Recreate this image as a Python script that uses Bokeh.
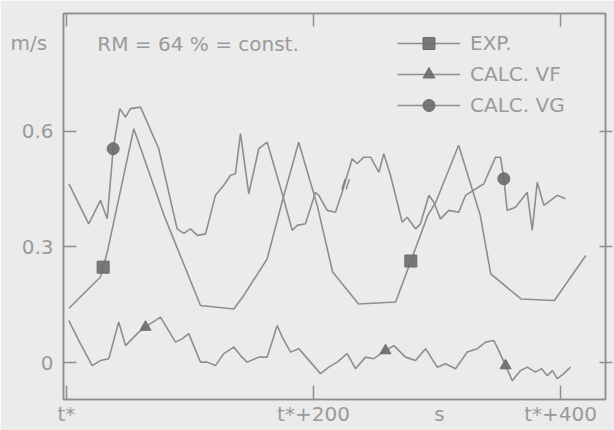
import numpy as np
from bokeh.plotting import figure
from bokeh.models import (LinearAxis, FixedTicker, Label, Legend, LegendItem,
                          Range1d)
from bokeh.embed import file_html
from bokeh.resources import INLINE

# ---------------- data (time after t*, s ; velocity m/s) ----------------
t_exp = [2, 27.5, 33, 54.5, 79, 108.5, 135.5, 143.5, 162.5, 174.5, 188, 203,
         215.5, 236.5, 266.5, 292.5, 299, 317.5, 335, 343.5, 368, 395, 420.5]
v_exp = [0.141, 0.222, 0.286, 0.607, 0.382, 0.148, 0.139, 0.174, 0.269, 0.416,
         0.572, 0.408, 0.235, 0.152, 0.157, 0.382, 0.416, 0.564, 0.382, 0.230,
         0.165, 0.161, 0.278]

t_vf = [1.9, 11.3, 20.8, 27.5, 34.3, 42.3, 47.8, 58.5, 64.0, 68.0, 76.1, 88.3,
        93.9, 99.0, 108.5, 113.9, 120.6, 127.4, 135.5, 140.9, 146.3, 155.7,
        162.5, 170.6, 174.7, 181.4, 188.1, 197.6, 205.7, 212.4, 219.2, 227.3,
        234.0, 242.1, 248.8, 258.3, 265.0, 274.5, 282.6, 290.7, 300.2, 306.9,
        315.0, 324.4, 332.6, 339.3, 346.0, 350.0, 355.5, 360.9, 367.6, 373.0,
        379.8, 384.6, 389.2, 393.5, 397.3, 402.7, 408.1]
v_vf = [0.109, 0.049, -0.008, 0.005, 0.010, 0.105, 0.044, 0.079, 0.092, 0.101,
        0.118, 0.053, 0.062, 0.075, 0.001, 0.001, -0.008, 0.023, 0.040, 0.018,
        0.001, 0.014, 0.014, 0.096, 0.066, 0.027, 0.036, 0.001, -0.029, -0.012,
        0.001, 0.023, -0.016, 0.014, 0.010, 0.031, 0.044, 0.014, 0.005, 0.036,
        -0.012, -0.003, -0.016, 0.027, 0.036, 0.053, 0.057, 0.031, -0.008,
        -0.047, -0.021, -0.012, -0.025, -0.016, -0.034, -0.021, -0.042, -0.029,
        -0.012]

t_vg = [2, 18, 27.5, 33, 37.8, 43.2, 47.8, 51.8, 60, 74.7, 89.6, 95, 100.4, 106,
        112.6, 120.6, 127.4, 132.8, 136.8, 140.9, 147.6, 155.7, 162.5, 174.7,
        182.8, 186.8, 193.5, 201.6, 204.3, 211.1, 217.8, 223.2, 231.3, 235.3,
        240.7, 246.2, 252.9, 256.9, 262.3, 271.8, 275.8, 282.6, 286.6, 293.4,
        297.4, 302.8, 309.6, 317.6, 323.1, 337.9, 347.4, 351.4, 354.1, 356.8,
        363.6, 373, 377.1, 381.1, 386.5, 397.3, 404]
v_vg = [0.464, 0.360, 0.421, 0.373, 0.555, 0.659, 0.637, 0.659, 0.663, 0.555,
        0.347, 0.335, 0.347, 0.330, 0.334, 0.434, 0.460, 0.486, 0.490, 0.594,
        0.438, 0.555, 0.572, 0.438, 0.343, 0.356, 0.360, 0.442, 0.434, 0.395,
        0.390, 0.442, 0.529, 0.516, 0.533, 0.533, 0.494, 0.542, 0.486, 0.364,
        0.377, 0.347, 0.360, 0.434, 0.416, 0.373, 0.395, 0.390, 0.434, 0.464,
        0.533, 0.533, 0.477, 0.395, 0.403, 0.442, 0.343, 0.468, 0.408, 0.434,
        0.425]

# marker times on each curve
exp_mark_t = [29.7, 278.8]
vf_mark_t = [64.0, 258.3, 355.5]
vg_mark_t = [37.8, 354.1]

x_ticks = [0, 200, 400]
x_label_pos = [0, 200, 302, 400]
x_labels = ["t*", "t*+200", "s", "t*+400"]
y_ticks = [0, 0.3, 0.6]
y_label_pos = [0, 0.3, 0.6, 0.829]
y_labels = ["0", "0.3", "0.6", "m/s\u00a0"]

series_labels = ["EXP.", "CALC. VF", "CALC. VG"]
note_text = "RM = 64 % = const."

# ---------------- style ----------------
BG = "#ebebeb"
LINE = "#8e8e8e"
TXT = "#9a9a9a"
MK = "#6c6c6c"
FONT = "DejaVu Sans"

p = figure(width=614, height=430,
           x_range=Range1d(-2.4, 436.4), y_range=Range1d(-0.096, 0.906),
           output_backend="svg", toolbar_location=None,
           min_border_left=63, min_border_right=9, min_border_top=13,
           min_border_bottom=31,
           background_fill_color=BG, border_fill_color=BG,
           outline_line_color=LINE, outline_line_width=1.5)
p.grid.visible = False


def tick_axis(ax, ticks, t_in=13, t_out=0):
    """axis drawing only the line and tick marks"""
    ax.ticker = FixedTicker(ticks=ticks)
    ax.major_label_overrides = {k: "" for k in ticks}
    ax.axis_line_color = LINE
    ax.axis_line_width = 1.5
    ax.major_tick_line_color = LINE
    ax.major_tick_line_width = 1.5
    ax.major_tick_in = t_in
    ax.major_tick_out = t_out
    ax.minor_tick_line_color = None
    ax.major_label_text_font_size = "0px"
    ax.major_label_standoff = 0


def label_axis(ax, pos, labels, standoff):
    """axis drawing only the tick labels"""
    ax.ticker = FixedTicker(ticks=pos)
    ax.major_label_overrides = {k: v for k, v in zip(pos, labels)}
    ax.axis_line_color = None
    ax.major_tick_line_color = None
    ax.minor_tick_line_color = None
    ax.major_tick_in = 0
    ax.major_tick_out = 0
    ax.major_label_standoff = standoff
    ax.major_label_text_color = TXT
    ax.major_label_text_font = FONT
    ax.major_label_text_font_size = "20px"


tick_axis(p.xaxis[0], x_ticks, 14)
tick_axis(p.yaxis[0], y_ticks, 13)

xlab = LinearAxis()
label_axis(xlab, x_label_pos, x_labels, 2)
p.add_layout(xlab, "below")
ylab = LinearAxis()
label_axis(ylab, y_label_pos, y_labels, 10)
p.add_layout(ylab, "left")

top = LinearAxis()
tick_axis(top, x_ticks, 13)
p.add_layout(top, "above")
right = LinearAxis()
tick_axis(right, y_ticks, 6, 7)
p.add_layout(right, "right")

items = []
for (t, v, mt, mk), lab in zip(
        [(t_exp, v_exp, exp_mark_t, "square"),
         (t_vf, v_vf, vf_mark_t, "triangle"),
         (t_vg, v_vg, vg_mark_t, "circle")], series_labels):
    r_line = p.line(t, v, line_color=LINE, line_width=1.6)
    my = np.interp(mt, t, v)
    r_mk = p.scatter(mt, my, marker=mk, size=12 if mk != "triangle" else 11,
                     fill_color=MK, line_color=MK, fill_alpha=0.9)
    items.append(LegendItem(label=lab, renderers=[r_line, r_mk]))

legend = Legend(items=items, location=(334, 279), orientation="vertical",
                glyph_width=63, glyph_height=30, label_height=30, spacing=1,
                padding=0, margin=0, label_standoff=10,
                label_text_font=FONT, label_text_font_size="20px",
                label_text_color=TXT, background_fill_alpha=0,
                border_line_alpha=0)
p.add_layout(legend, "center")

p.add_layout(Label(x=25, y=0.826, text=note_text, text_font=FONT,
                   text_font_size="20px", text_color=TXT,
                   text_baseline="middle", text_align="left"))
p.add_layout(Label(x=226, y=0.465, text="//", text_font=FONT,
                   text_font_size="13px", text_color=MK,
                   text_baseline="middle", text_align="center"))

open("out.html", "w").write(file_html(p, INLINE))
